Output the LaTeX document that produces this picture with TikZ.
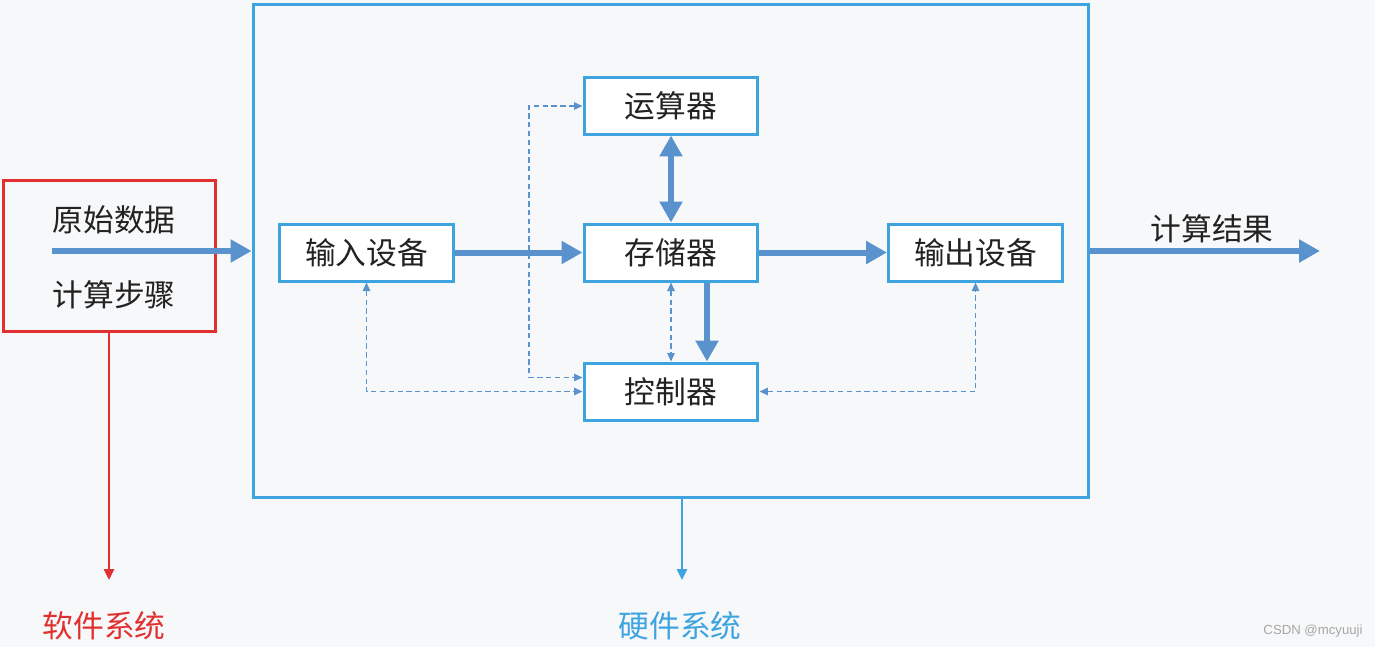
\documentclass[tikz,border=0pt]{standalone}
\usepackage{fontspec}
\setmainfont{Noto Sans CJK SC}
\setsansfont{Liberation Sans}
\usetikzlibrary{arrows.meta}
\definecolor{bgc}{HTML}{F7F8F9}
\definecolor{boxc}{HTML}{3EA4E0}
\definecolor{arrc}{HTML}{5A92CD}
\definecolor{redc}{HTML}{E0302F}
\definecolor{txtc}{HTML}{222222}
\tikzset{
  box/.style={draw=boxc, line width=0.06cm, fill=white, minimum width=3.48cm, minimum height=1.14cm, inner sep=0pt, text=txtc, font=\fontsize{17.5}{20}\selectfont},
  lbl/.style={text=txtc, inner sep=0pt, font=\fontsize{17.5}{20}\selectfont},
  thick arrow/.style={draw=arrc, line width=0.12cm, -{Triangle[length=0.42cm,width=0.44cm]}},
  thick both/.style={draw=arrc, line width=0.12cm, {Triangle[length=0.42cm,width=0.44cm]}-{Triangle[length=0.42cm,width=0.44cm]}},
  dsh/.style={draw=arrc, line width=0.6pt, dash pattern=on 3pt off 2pt, {Triangle[length=0.17cm,width=0.15cm]}-{Triangle[length=0.17cm,width=0.15cm]}},
}
\begin{document}
\begin{tikzpicture}[x=0.02cm, y=-0.02cm]
\fill[bgc] (0,0) rectangle (1375,647);
\useasboundingbox (0,0) rectangle (1375,647);
% software box
\node[draw=redc, line width=0.06cm, minimum width=4.26cm, minimum height=3.04cm, inner sep=0pt] (sw) at (109.5,256) {};
\node[lbl] (raw) at (114,220) {原始数据};
\node[lbl] (steps) at (114,295) {计算步骤};
% hardware box
\node[draw=boxc, line width=0.06cm, minimum width=16.72cm, minimum height=9.88cm, inner sep=0pt] (hw) at (671,251) {};
% components
\node[box] (ys) at (671,105.5) {运算器};
\node[box] (sr) at (366.5,252.5) {输入设备};
\node[box] (cc) at (671,252.5) {存储器};
\node[box] (sc) at (975.5,252.5) {输出设备};
\node[box] (kz) at (671,391.5) {控制器};
% coordinates
\coordinate (in) at (52,251);
\coordinate (out) at (1320,251);
\coordinate (c1) at (529,106);
\coordinate (c2) at (529,377.5);
\coordinate (swend) at (109,580);
\coordinate (hwend) at (682,580);
% thick arrows
\draw[thick arrow] (in) -- (hw.west |- in);
\draw[thick arrow] (sr.east) -- (cc.west);
\draw[thick arrow] (cc.east) -- (sc.west);
\draw[thick both] (ys.south) -- (cc.north);
\draw[thick arrow] ([xshift=0.72cm]cc.south) -- ([xshift=0.72cm]kz.north);
\draw[thick arrow] (hw.east |- out) -- (out);
\node[lbl] (res) at (1212,229) {计算结果};
% dashed arrows
\draw[dsh] (cc.south) -- (kz.north);
\draw[dsh] (ys.west |- c1) -- (c1) -- (c2) -- (kz.west |- c2);
\draw[dsh] (sr.south) |- (kz.west);
\draw[dsh] (kz.east) -| (sc.south);
% bottom arrows
\draw[redc, line width=0.05cm, -{Triangle[length=0.22cm,width=0.2cm]}] (sw.south -| swend) -- (swend);
\draw[boxc, line width=0.05cm, -{Triangle[length=0.22cm,width=0.2cm]}] (hw.south -| hwend) -- (hwend);
\node[lbl, text=redc] (swl) at (104,626) {软件系统};
\node[lbl, text=boxc] (hwl) at (680,626) {硬件系统};
\node[text=gray!70, inner sep=0pt, font=\sffamily\fontsize{7.5}{9}\selectfont] (wm) at (1313,631) {CSDN @mcyuuji};
\end{tikzpicture}
\end{document}
